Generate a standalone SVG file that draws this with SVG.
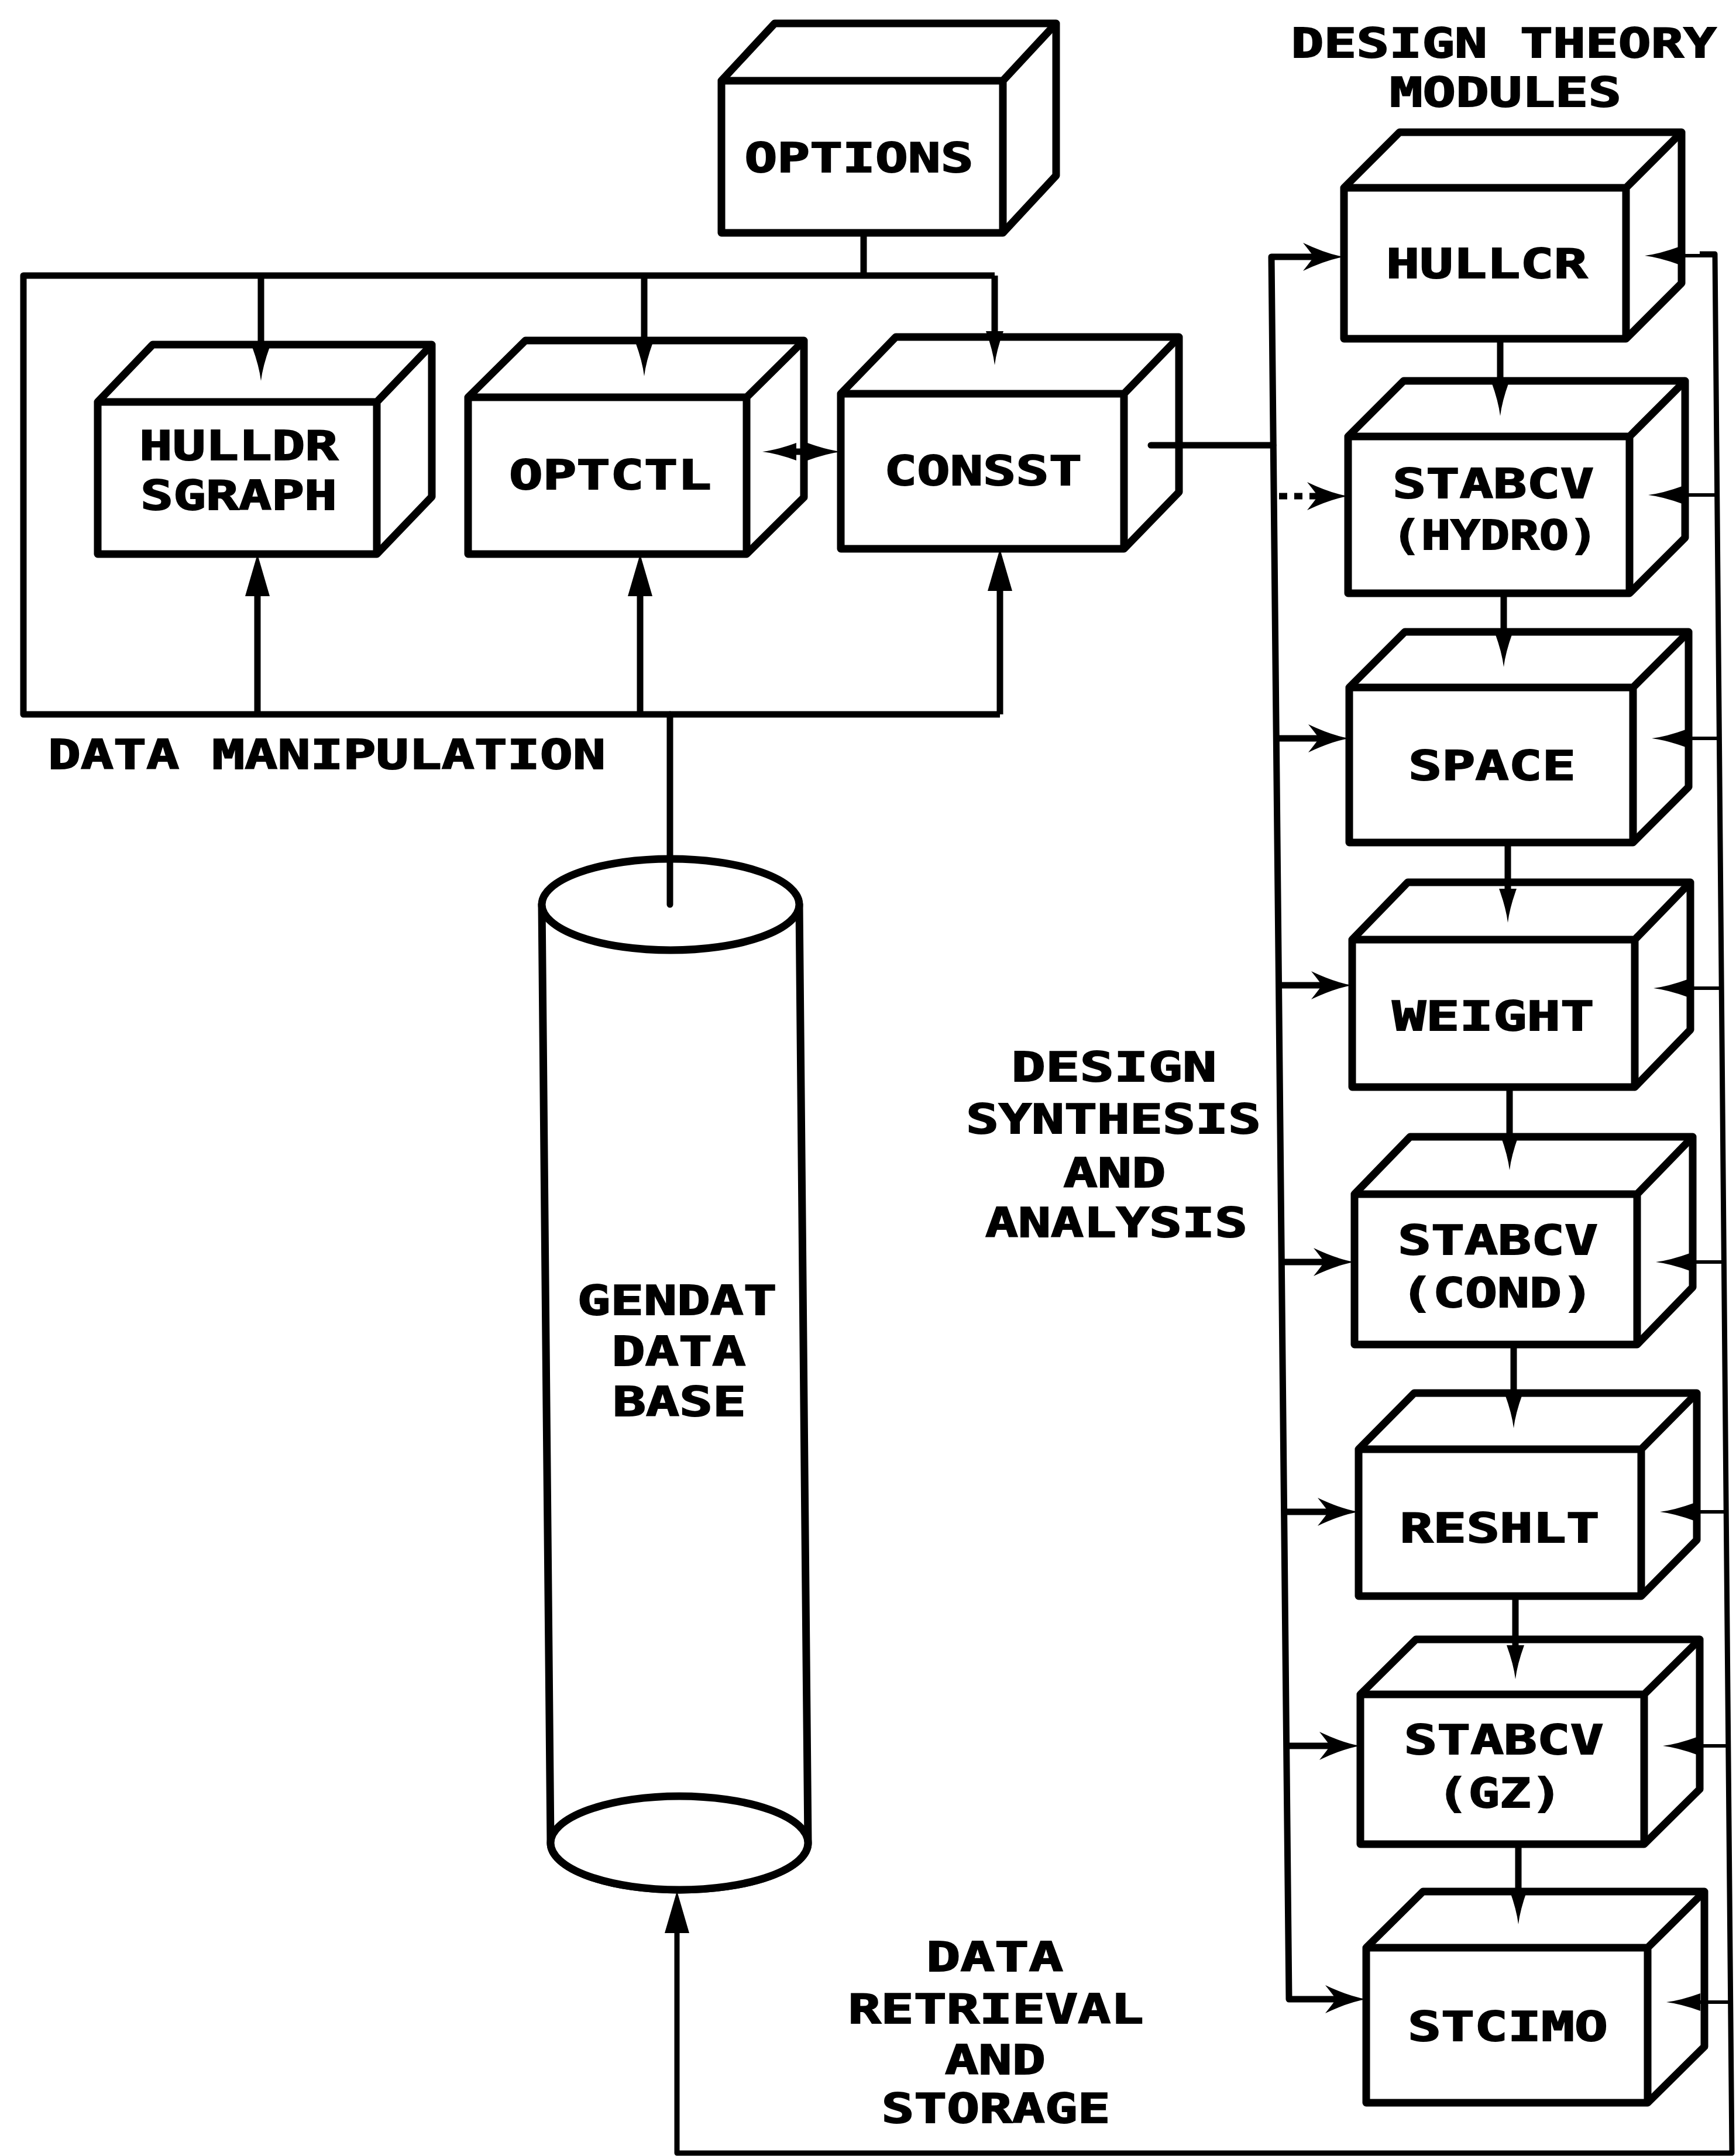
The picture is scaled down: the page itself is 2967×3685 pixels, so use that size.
<svg xmlns="http://www.w3.org/2000/svg" width="2967" height="3685" viewBox="0 0 2967 3685">
<style>
.box{fill:#fff;stroke:#000;stroke-width:13;stroke-linejoin:round}
.in{fill:none;stroke:#000;stroke-width:13;stroke-linejoin:round}
.c{fill:none;stroke:#000;stroke-width:11;stroke-linejoin:round}
.thin{fill:none;stroke:#000;stroke-width:6}
.rv{fill:none;stroke:#000;stroke-width:9;stroke-linejoin:round}
text{font-family:"DejaVu Sans Mono","Liberation Mono",monospace;font-weight:bold;font-size:70px;fill:#000;stroke:#000;stroke-width:2}
.m{text-anchor:middle}
</style>
<defs>
<marker id="spike" viewBox="-62 -18 64 36" refX="-38" refY="0" markerWidth="64" markerHeight="36" markerUnits="userSpaceOnUse" orient="auto-start-reverse">
<path d="M0,0 Q-25,-3 -58,-15 L-58,15 Q-25,3 0,0 Z" fill="#000"/>
</marker>
<marker id="tri" viewBox="-76 -24 78 48" refX="-40" refY="0" markerWidth="78" markerHeight="48" markerUnits="userSpaceOnUse" orient="auto-start-reverse">
<path d="M0,0 L-72,-21 L-72,21 Z" fill="#000"/>
</marker>
<marker id="barb" viewBox="-74 -27 76 54" refX="-35" refY="0" markerWidth="76" markerHeight="54" markerUnits="userSpaceOnUse" orient="auto-start-reverse">
<path d="M0,0 Q-30,-5 -70,-24 Q-54,-4 -52,0 Q-54,4 -70,24 Q-30,5 0,0 Z" fill="#000"/>
</marker>
</defs>
<rect width="2967" height="3685" fill="#fff"/>

<g id="options">
<path class="box" d="M1233,398 V138 L1324,40 H1805 V300 L1714,398 Z"/>
<path class="in" d="M1233,138 H1714 V398 M1714,138 L1805,40"/>
<text class="m" x="1468" y="294" textLength="391" lengthAdjust="spacingAndGlyphs">OPTIONS</text>
</g>
<g id="hulldr">
<path class="box" d="M167,947 V687 L261,589 H738 V849 L644,947 Z"/>
<path class="in" d="M167,687 H644 V947 M644,687 L738,589"/>
<text class="m" x="408" y="786" textLength="340" lengthAdjust="spacingAndGlyphs">HULLDR</text>
<text class="m" x="408" y="871" textLength="336" lengthAdjust="spacingAndGlyphs">SGRAPH</text>
</g>
<g id="optctl">
<path class="box" d="M800,947 V679 L898,582 H1374 V850 L1276,947 Z"/>
<path class="in" d="M800,679 H1276 V947 M1276,679 L1374,582"/>
<text class="m" x="1043" y="836" textLength="346" lengthAdjust="spacingAndGlyphs">OPTCTL</text>
</g>
<g id="consst">
<path class="box" d="M1437,938 V673 L1531,576 H2015 V841 L1921,938 Z"/>
<path class="in" d="M1437,673 H1921 V938 M1921,673 L2015,576"/>
<text class="m" x="1680" y="829" textLength="338" lengthAdjust="spacingAndGlyphs">CONSST</text>
</g>
<g id="hullcr">
<path class="box" d="M2297,579 V321 L2392,226 H2874 V484 L2779,579 Z"/>
<path class="in" d="M2297,321 H2779 V579 M2779,321 L2874,226"/>
<text class="m" x="2541" y="475" textLength="344" lengthAdjust="spacingAndGlyphs">HULLCR</text>
</g>
<g id="stabcv-hydro">
<path class="box" d="M2304,1014 V746 L2399,651 H2880 V919 L2785,1014 Z"/>
<path class="in" d="M2304,746 H2785 V1014 M2785,746 L2880,651"/>
<text class="m" x="2552" y="851" textLength="344" lengthAdjust="spacingAndGlyphs">STABCV</text>
<text class="m" x="2555" y="939" textLength="353" lengthAdjust="spacingAndGlyphs">(HYDRO)</text>
</g>
<g id="space">
<path class="box" d="M2306,1440 V1175 L2401,1080 H2886 V1345 L2791,1440 Z"/>
<path class="in" d="M2306,1175 H2791 V1440 M2791,1175 L2886,1080"/>
<text class="m" x="2550" y="1333" textLength="286" lengthAdjust="spacingAndGlyphs">SPACE</text>
</g>
<g id="weight">
<path class="box" d="M2311,1858 V1606 L2406,1508 H2889 V1760 L2794,1858 Z"/>
<path class="in" d="M2311,1606 H2794 V1858 M2794,1606 L2889,1508"/>
<text class="m" x="2552" y="1761" textLength="345" lengthAdjust="spacingAndGlyphs">WEIGHT</text>
</g>
<g id="stabcv-cond">
<path class="box" d="M2315,2298 V2041 L2410,1943 H2893 V2200 L2798,2298 Z"/>
<path class="in" d="M2315,2041 H2798 V2298 M2798,2041 L2893,1943"/>
<text class="m" x="2560" y="2144" textLength="342" lengthAdjust="spacingAndGlyphs">STABCV</text>
<text class="m" x="2559" y="2234" textLength="330" lengthAdjust="spacingAndGlyphs">(COND)</text>
</g>
<g id="reshlt">
<path class="box" d="M2322,2728 V2477 L2417,2381 H2900 V2632 L2805,2728 Z"/>
<path class="in" d="M2322,2477 H2805 V2728 M2805,2477 L2900,2381"/>
<text class="m" x="2563" y="2636" textLength="341" lengthAdjust="spacingAndGlyphs">RESHLT</text>
</g>
<g id="stabcv-gz">
<path class="box" d="M2325,3152 V2896 L2420,2802 H2905 V3058 L2810,3152 Z"/>
<path class="in" d="M2325,2896 H2810 V3152 M2810,2896 L2905,2802"/>
<text class="m" x="2570" y="2998" textLength="341" lengthAdjust="spacingAndGlyphs">STABCV</text>
<text class="m" x="2563" y="3089" textLength="214" lengthAdjust="spacingAndGlyphs">(GZ)</text>
</g>
<g id="stcimo">
<path class="box" d="M2335,3594 V3329 L2432,3233 H2913 V3498 L2816,3594 Z"/>
<path class="in" d="M2335,3329 H2816 V3594 M2816,3329 L2913,3233"/>
<text class="m" x="2577" y="3488" textLength="342" lengthAdjust="spacingAndGlyphs">STCIMO</text>
</g>
<g id="gendat">
<path class="box" d="M926,1546 L941,3150 A220,80 0 0 0 1381,3150 L1366,1546 Z"/>
<ellipse class="box" cx="1146" cy="1546" rx="220" ry="78"/>
<ellipse class="box" cx="1161" cy="3150" rx="220" ry="80"/>
<text class="m" x="1157" y="2247" textLength="341" lengthAdjust="spacingAndGlyphs">GENDAT</text>
<text class="m" x="1160" y="2334" textLength="229" lengthAdjust="spacingAndGlyphs">DATA</text>
<text class="m" x="1161" y="2420" textLength="228" lengthAdjust="spacingAndGlyphs">BASE</text>
</g>

<g id="connectors">
<path class="c" d="M1476,398 V471"/>
<path class="c" d="M1700,471 H40 V1221 H1709"/>
<path class="c" d="M1700,471 V586" marker-end="url(#spike)"/>
<path class="c" d="M446,471 V613" marker-end="url(#spike)"/>
<path class="c" d="M1101,471 V605" marker-end="url(#spike)"/>
<path class="c" d="M440,1221 V987" marker-end="url(#tri)"/>
<path class="c" d="M1094,1221 V987" marker-end="url(#tri)"/>
<path class="c" d="M1709,1221 V978" marker-end="url(#tri)"/>
<path class="c" d="M1145,1221 V1546" stroke-linecap="round"/>
<path class="c" d="M1341,772 H1400" marker-start="url(#spike)" marker-end="url(#spike)"/>
<path class="c" d="M1967,761 H2176" stroke-linecap="round"/>
<path class="c" stroke-width="13" d="M2262,439 H2173 L2203,3417 H2300" marker-start="url(#barb)" marker-end="url(#barb)"/>
<path class="c" d="M2186,848 H2269" stroke-dasharray="14 12" marker-end="url(#barb)"/>
<path class="c" d="M2181,1262 H2271" marker-end="url(#barb)"/>
<path class="c" d="M2186,1684 H2276" marker-end="url(#barb)"/>
<path class="c" d="M2190,2157 H2280" marker-end="url(#barb)"/>
<path class="c" d="M2195,2584 H2287" marker-end="url(#barb)"/>
<path class="c" d="M2199,2984 H2290" marker-end="url(#barb)"/>
<path class="rv" d="M2905,434 H2931 L2960,3680 H1157 V3272" marker-end="url(#tri)"/>
<path class="thin" d="M2931,437 H2849" marker-end="url(#spike)"/>
<path class="thin" d="M2935,846 H2855" marker-end="url(#spike)"/>
<path class="thin" d="M2938,1262 H2861" marker-end="url(#spike)"/>
<path class="thin" d="M2942,1689 H2864" marker-end="url(#spike)"/>
<path class="thin" d="M2946,2157 H2868" marker-end="url(#spike)"/>
<path class="thin" d="M2950,2584 H2875" marker-end="url(#spike)"/>
<path class="thin" d="M2954,2984 H2880" marker-end="url(#spike)"/>
<path class="thin" d="M2958,3422 H2886" marker-end="url(#spike)"/>
<path class="c" d="M2564,579 V673" marker-end="url(#spike)"/>
<path class="c" d="M2570,1014 V1102" marker-end="url(#spike)"/>
<path class="c" d="M2577,1440 V1539" marker-end="url(#spike)"/>
<path class="c" d="M2580,1858 V1962" marker-end="url(#spike)"/>
<path class="c" d="M2587,2298 V2403" marker-end="url(#spike)"/>
<path class="c" d="M2590,2728 V2832" marker-end="url(#spike)"/>
<path class="c" d="M2595,3152 V3251" marker-end="url(#spike)"/>
</g>

<g id="labels">
<text x="82" y="1314" textLength="953" lengthAdjust="spacingAndGlyphs">DATA MANIPULATION</text>
<text class="m" x="2570" y="98" textLength="727" lengthAdjust="spacingAndGlyphs">DESIGN THEORY</text>
<text class="m" x="2573" y="182" textLength="396" lengthAdjust="spacingAndGlyphs">MODULES</text>
<text class="m" x="1904" y="1848" textLength="351" lengthAdjust="spacingAndGlyphs">DESIGN</text>
<text class="m" x="1903" y="1937" textLength="504" lengthAdjust="spacingAndGlyphs">SYNTHESIS</text>
<text class="m" x="1905" y="2029" textLength="175" lengthAdjust="spacingAndGlyphs">AND</text>
<text class="m" x="1908" y="2114" textLength="448" lengthAdjust="spacingAndGlyphs">ANALYSIS</text>
<text class="m" x="1700" y="3369" textLength="234" lengthAdjust="spacingAndGlyphs">DATA</text>
<text class="m" x="1702" y="3458" textLength="505" lengthAdjust="spacingAndGlyphs">RETRIEVAL</text>
<text class="m" x="1701" y="3545" textLength="172" lengthAdjust="spacingAndGlyphs">AND</text>
<text class="m" x="1702" y="3628" textLength="391" lengthAdjust="spacingAndGlyphs">STORAGE</text>
</g>
</svg>
